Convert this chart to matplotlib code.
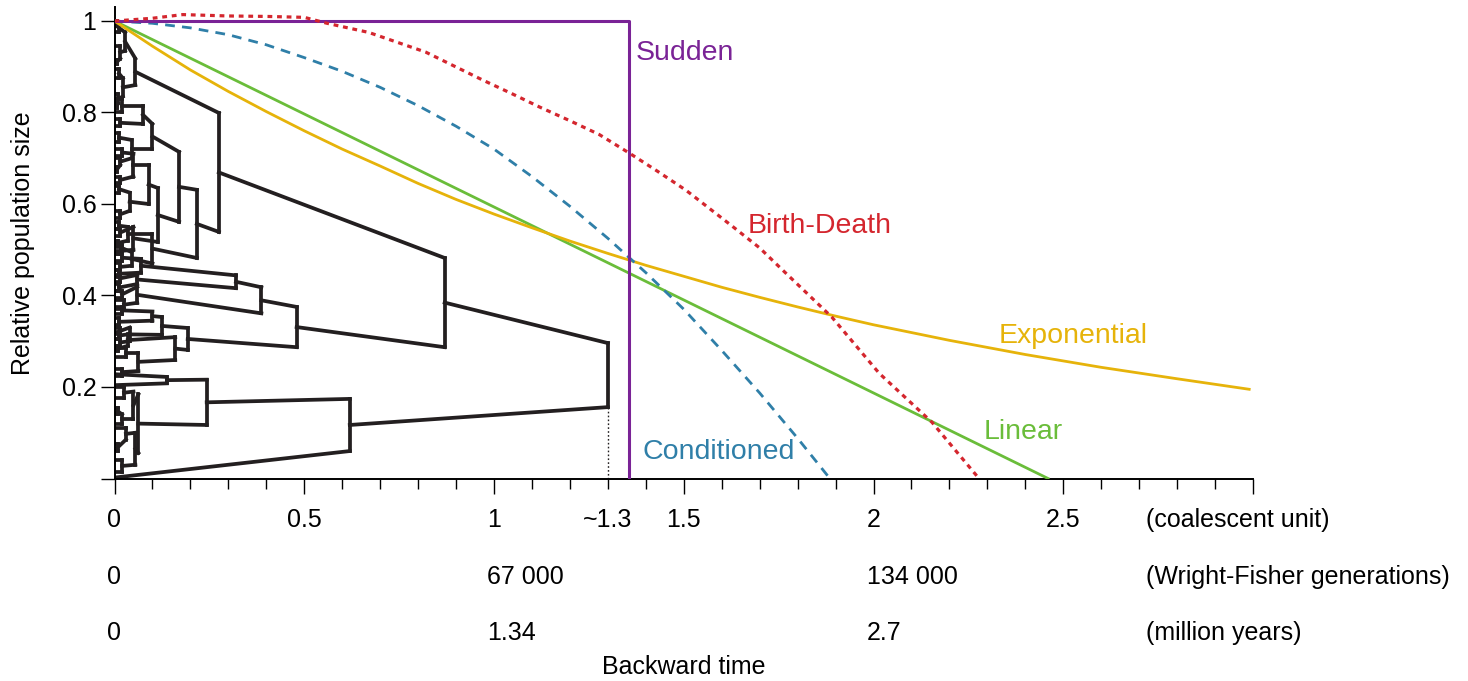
import numpy as np
import matplotlib.pyplot as plt
from matplotlib.collections import LineCollection
from matplotlib.ticker import MultipleLocator

plt.rcParams['font.family'] = ['Liberation Sans', 'DejaVu Sans']

# ---- demographic scenarios (x: coalescent units, y: relative population size)
sudden_x = [0.0, 1.357, 1.357]
sudden_y = [1.0, 1.0, 0.0]

linear_x = [0.0, 2.46]
linear_y = [1.0, 0.0]

expo_x = [0.0, 0.1, 0.2, 0.3, 0.4, 0.5, 0.6, 0.7, 0.8, 0.9, 1.0, 1.1, 1.2, 1.3,
          1.4, 1.5, 1.6, 1.7, 1.8, 1.9, 2.0, 2.2, 2.4, 2.6, 2.8, 2.99]
expo_y = [1.0, 0.945, 0.893, 0.846, 0.802, 0.76, 0.72, 0.683, 0.645, 0.61, 0.578,
          0.548, 0.519, 0.492, 0.466, 0.442, 0.418, 0.396, 0.375, 0.355, 0.336,
          0.302, 0.271, 0.243, 0.218, 0.195]

cond_x = [0.0, 0.1, 0.2, 0.3, 0.4, 0.5, 0.6, 0.7, 0.8, 0.9, 1.0, 1.1, 1.2, 1.3,
          1.4, 1.5, 1.6, 1.7, 1.8, 1.885]
cond_y = [1.0, 0.995, 0.985, 0.97, 0.948, 0.92, 0.89, 0.855, 0.815, 0.77, 0.72,
          0.66, 0.595, 0.525, 0.45, 0.37, 0.28, 0.187, 0.088, 0.0]

bd_x = [0.0, 0.05, 0.1, 0.18, 0.3, 0.4, 0.5, 0.56, 0.67, 0.82, 0.97, 1.05, 1.12,
        1.2, 1.277, 1.357, 1.43, 1.506, 1.627, 1.70, 1.76, 1.89, 2.015, 2.154, 2.278]
bd_y = [1.0, 1.003, 1.006, 1.014, 1.011, 1.01, 1.008, 0.995, 0.975, 0.932, 0.871,
        0.84, 0.812, 0.782, 0.752, 0.711, 0.672, 0.630, 0.552, 0.504, 0.456, 0.353,
        0.230, 0.123, 0.0]

# ---- genealogy: internal nodes (height, bar bottom, bar top, parent, which end of parent)
node_name = ['R', 'A', 'B', 'A1', 'A2', 'N1', 'A1b', 'N1a', 'N1b', 'C1', 'C2', 'D1', 'D2',
             'D1a', 'D1b', 'E1', 'E2', 'F1', 'F2', 'G1', 'G2', 'P', 'S', 'Q', 'H3', 'H1',
             'H2', 'T1', 'T2', 'U1', 'U2', 'U3', 'U4', 'V', 'W1', 'W2', 'X1', 'X2',
             't1', 't2', 't3', 't4', 't5', 't6', 't7', 't8', 't9', 't10', 't11', 't12',
             't13', 't14', 't15', 't16', 't17', 't18', 't19', 't20', 't21', 't22', 't23',
             't24', 't25', 't26', 't27', 't28', 't29', 't30', 't31', 't32', 't33', 't34',
             't35', 't36', 't37', 't38', 't39', 't40', 't41', 't42']
node_t = [1.30, 0.87, 0.62, 0.275, 0.48, 0.055, 0.217, 0.028, 0.022, 0.17, 0.10, 0.10, 0.114,
          0.075, 0.045, 0.09, 0.05, 0.05, 0.04, 0.035, 0.045, 0.387, 0.193, 0.32, 0.06, 0.07,
          0.06, 0.125, 0.16, 0.10, 0.04, 0.035, 0.063, 0.243, 0.138, 0.063, 0.05, 0.055,
          0.012, 0.015, 0.012, 0.01, 0.02, 0.015, 0.02, 0.015, 0.018, 0.012, 0.02, 0.012,
          0.025, 0.02, 0.015, 0.03, 0.02, 0.025, 0.02, 0.03, 0.02, 0.015, 0.012,
          0.015, 0.012, 0.015, 0.01, 0.02, 0.015, 0.012, 0.015, 0.02, 0.012, 0.015,
          0.012, 0.01, 0.006, 0.006, 0.006, 0.006, 0.008, 0.008]
node_lo = [0.156, 0.287, 0.060, 0.539, 0.287, 0.86, 0.482, 0.935, 0.835, 0.561, 0.47, 0.72,
           0.517, 0.775, 0.70, 0.60, 0.50, 0.66, 0.585, 0.52, 0.465, 0.361, 0.281, 0.416,
           0.384, 0.45, 0.425, 0.314, 0.259, 0.345, 0.30, 0.29, 0.235, 0.117, 0.208, 0.056,
           0.13, 0.03,
           0.975, 0.918, 0.875, 0.82, 0.80, 0.685, 0.705, 0.57, 0.49, 0.545, 0.475, 0.41,
           0.37, 0.36, 0.29, 0.265, 0.225, 0.175, 0.12, 0.085, 0.015, 0.645, 0.735,
           0.77, 0.625, 0.53, 0.51, 0.497, 0.455, 0.44, 0.43, 0.395, 0.335, 0.315,
           0.305, 0.278, 0.99, 0.905, 0.81, 0.67, 0.06, 0.14]
node_hi = [0.296, 0.482, 0.174, 0.799, 0.375, 0.918, 0.631, 0.975, 0.875, 0.714, 0.535, 0.775,
           0.635, 0.815, 0.74, 0.685, 0.55, 0.71, 0.625, 0.55, 0.495, 0.418, 0.329, 0.444,
           0.419, 0.48, 0.445, 0.353, 0.309, 0.365, 0.33, 0.315, 0.275, 0.216, 0.222, 0.184,
           0.19, 0.10,
           0.995, 0.945, 0.895, 0.84, 0.83, 0.70, 0.72, 0.585, 0.505, 0.56, 0.49, 0.425,
           0.39, 0.375, 0.305, 0.285, 0.24, 0.20, 0.14, 0.11, 0.04, 0.66, 0.755,
           0.785, 0.64, 0.545, 0.52, 0.51, 0.47, 0.455, 0.445, 0.41, 0.35, 0.33,
           0.32, 0.29, 1.0, 0.915, 0.82, 0.68, 0.075, 0.155]
node_parent = ['', 'R', 'R', 'A', 'A', 'A1', 'A1', 'N1', 'N1', 'A1b', 'A1b', 'C1', 'C1',
               'D1', 'D1', 'D2', 'D2', 'E1', 'E1', 'C2', 'C2', 'A2', 'A2', 'P', 'P', 'Q',
               'Q', 'S', 'S', 'T1', 'T1', 'T2', 'T2', 'B', 'V', 'V', 'W2', 'W2',
               'N1a', 'N1a', 'N1b', 'N1b', 'D1a', 'D1b', 'F1', 'F2', 'E2', 'G1', 'H1', 'H2',
               'H3', 'U1', 'U2', 'U4', 'U4', 'X1', 'X1', 'X2', 'X2', 'F1', 'D1b',
               'D1a', 'F2', 'E2', 'G1', 'G2', 'G2', 'H1', 'H2', 'H3', 'U1', 'U2',
               'U3', 'U3', 't1', 't2', 't4', 't6', 't20', 't19']
node_side = ['', 'hi', 'lo', 'hi', 'lo', 'hi', 'lo', 'hi', 'lo', 'hi', 'lo', 'hi', 'lo',
             'hi', 'lo', 'hi', 'lo', 'hi', 'lo', 'hi', 'lo', 'hi', 'lo', 'hi', 'lo', 'hi',
             'lo', 'hi', 'lo', 'hi', 'lo', 'hi', 'lo', 'hi', 'hi', 'lo', 'hi', 'lo',
             'hi', 'lo', 'hi', 'lo', 'hi', 'lo', 'hi', 'lo', 'lo', 'hi', 'hi', 'lo',
             'lo', 'hi', 'lo', 'hi', 'lo', 'hi', 'lo', 'hi', 'lo', 'lo', 'hi',
             'lo', 'hi', 'hi', 'lo', 'hi', 'lo', 'lo', 'hi', 'hi', 'lo', 'hi',
             'hi', 'lo', 'hi', 'lo', 'lo', 'lo', 'lo', 'hi']

# sampled tips whose branch is visibly slanted (parent, end, tip position)
leaf_parent = ['B', 'W1', 'W1']
leaf_side = ['lo', 'hi', 'lo']
leaf_y = [0.002, 0.228, 0.204]

# ---- axis annotations
cu_pos = [0, 0.5, 1, 1.3, 1.5, 2, 2.5]
cu_lab = ['0', '0.5', '1', '~1.3', '1.5', '2', '2.5']
wf_pos = [0, 1, 2]
wf_lab = ['0', '67 000', '134 000']
my_pos = [0, 1, 2]
my_lab = ['0', '1.34', '2.7']
unit_lab = ['(coalescent unit)', '(Wright-Fisher generations)', '(million years)']
y_ticks = [0, 0.2, 0.4, 0.6, 0.8, 1.0]
y_lab = ['', '0.2', '0.4', '0.6', '0.8', '1']

C_SUDDEN = '#7A2396'
C_BD = '#D4262E'
C_COND = '#2F7FA8'
C_EXP = '#E6B30A'
C_LIN = '#6ABD3A'
C_TREE = '#231F20'

fig = plt.figure(figsize=(14.68, 6.81), dpi=100)
ax = fig.add_axes([114.5 / 1468, 202.5 / 681, 1138.5 / 1468, 471.5 / 681])
ax.set_xlim(0, 3.0)
ax.set_ylim(0, 1.0306)

# --- tree
idx = {n: i for i, n in enumerate(node_name)}
segs = []
claimed = set()
for i, n in enumerate(node_name):
    segs.append([(node_t[i], node_lo[i]), (node_t[i], node_hi[i])])
    p = node_parent[i]
    if p:
        j = idx[p]
        yend = node_hi[j] if node_side[i] == 'hi' else node_lo[j]
        mid = 0.5 * (node_lo[i] + node_hi[i])
        segs.append([(node_t[i], mid), (node_t[j], yend)])
        claimed.add((p, node_side[i]))
slanted = {(p, s): y for p, s, y in zip(leaf_parent, leaf_side, leaf_y)}
for i, n in enumerate(node_name):
    for s, yend in (('hi', node_hi[i]), ('lo', node_lo[i])):
        if (n, s) in claimed:
            continue
        y0 = slanted.get((n, s), yend)
        segs.append([(0.0, y0), (node_t[i], yend)])
ax.add_collection(LineCollection(segs, colors=C_TREE, linewidths=2.7,
                                 capstyle='projecting', joinstyle='miter', zorder=2))
ax.plot([1.3, 1.3], [0, node_lo[idx['R']]], color=C_TREE, lw=1.0,
        ls=(0, (1.2, 1.6)), zorder=2)

# --- curves
ax.plot(linear_x, linear_y, color=C_LIN, lw=2.0, zorder=3)
ax.plot(expo_x, expo_y, color=C_EXP, lw=2.0, zorder=3)
ax.plot(cond_x, cond_y, color=C_COND, lw=2.0, ls=(0, (3.5, 2.6)), zorder=3)
ax.plot(sudden_x, sudden_y, color=C_SUDDEN, lw=2.2, zorder=3)
ax.plot(bd_x, bd_y, color=C_BD, lw=2.3, ls=(0, (1.5, 1.5)), zorder=4)

lab_fs = 20.5
ax.text(1.372, 0.93, 'Sudden', color=C_SUDDEN, fontsize=lab_fs, va='center')
ax.text(1.667, 0.552, 'Birth-Death', color=C_BD, fontsize=lab_fs, va='center')
ax.text(2.33, 0.311, 'Exponential', color=C_EXP, fontsize=lab_fs, va='center')
ax.text(2.29, 0.102, 'Linear', color=C_LIN, fontsize=lab_fs, va='center')
ax.text(1.391, 0.058, 'Conditioned', color=C_COND, fontsize=lab_fs, va='center')

# --- axes styling
for s in ('top', 'right'):
    ax.spines[s].set_visible(False)
ax.spines['left'].set_linewidth(1.4)
ax.spines['bottom'].set_linewidth(1.4)
ax.xaxis.set_major_locator(MultipleLocator(0.5))
ax.xaxis.set_minor_locator(MultipleLocator(0.1))
ax.tick_params(axis='x', which='major', length=11, width=1.0, labelbottom=False)
ax.tick_params(axis='x', which='minor', length=7.5, width=1.0)
ax.set_yticks(y_ticks)
ax.set_yticklabels(y_lab)
ax.tick_params(axis='y', length=10, width=1.0, pad=3, labelsize=18)

fs = 18
rows = [(29.9, cu_pos, cu_lab, 'center', 0), (70.9, wf_pos, wf_lab, 'left', -5),
        (111.2, my_pos, my_lab, 'left', -5)]
for (off, pos, labs, ha, dx), unit in zip(rows, unit_lab):
    for x, t in zip(pos, labs):
        h = ha if t != '0' else 'center'
        ax.annotate(t, xy=(x, 0), xycoords=('data', 'axes fraction'),
                    xytext=(dx if h == 'left' else 0, -off), textcoords='offset points',
                    ha=h, va='center', fontsize=fs)
    ax.annotate(unit, xy=(2.717, 0), xycoords=('data', 'axes fraction'),
                xytext=(0, -off), textcoords='offset points',
                ha='left', va='center', fontsize=fs)
ax.annotate('Backward time', xy=(1.5, 0), xycoords=('data', 'axes fraction'),
            xytext=(0, -135.7), textcoords='offset points', ha='center', va='center',
            fontsize=fs)
ax.text(-0.08, 0.5, 'Relative population size', transform=ax.transAxes,
        rotation=90, ha='center', va='center', fontsize=fs)

fig.savefig('out.png', dpi=100)
